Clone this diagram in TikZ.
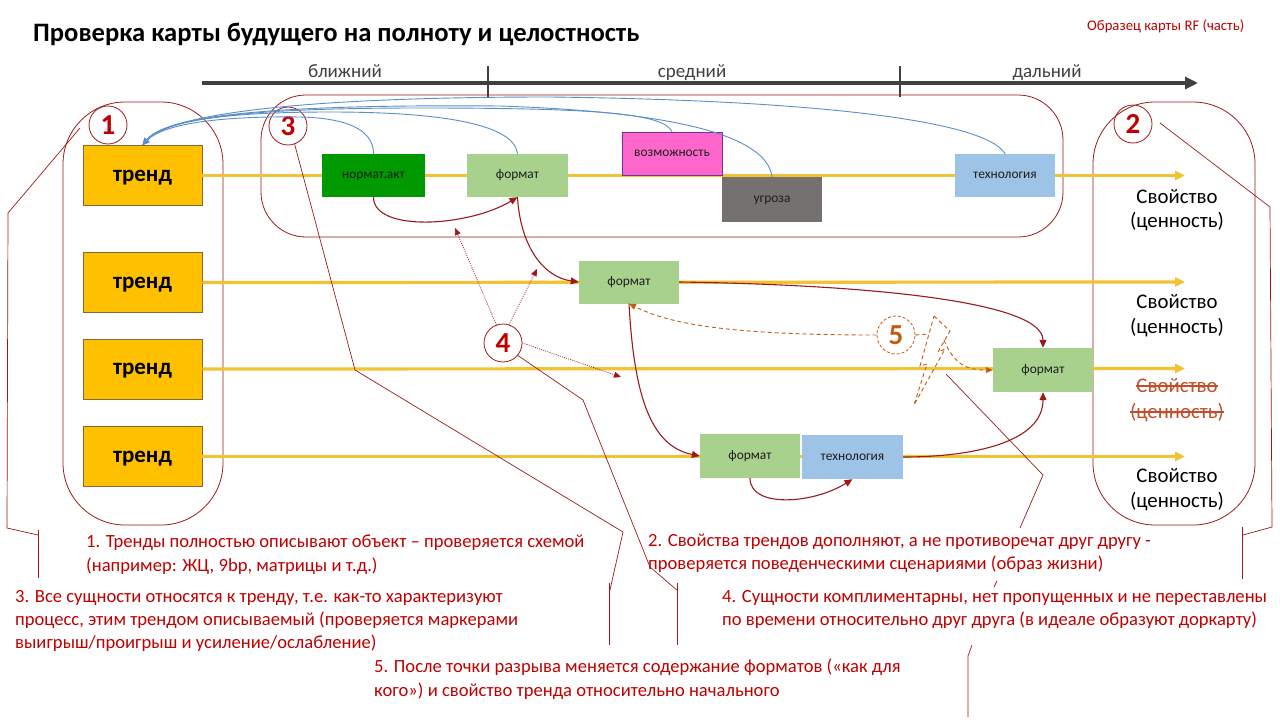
\documentclass[tikz,border=0pt]{standalone}
\usepackage{fontspec}
\setmainfont{Carlito}
\usetikzlibrary{arrows.meta}
\definecolor{dred}{HTML}{9B1B1B}
\definecolor{txtred}{HTML}{C00000}
\definecolor{ylw}{HTML}{F2C232}
\definecolor{trendfill}{HTML}{FFC000}
\definecolor{trendedge}{HTML}{7F6A3A}
\definecolor{ngreen}{HTML}{009A00}
\definecolor{lgreen}{HTML}{A9D18E}
\definecolor{pinkf}{HTML}{FF66CC}
\definecolor{purp}{HTML}{7030A0}
\definecolor{grayf}{HTML}{767171}
\definecolor{lblue}{HTML}{9DC3E6}
\definecolor{tlc}{HTML}{404040}
\definecolor{bluearc}{HTML}{5B8FC8}
\definecolor{orng}{HTML}{C55A11}
\definecolor{strk}{HTML}{C0502D}
\definecolor{boxtxt}{HTML}{1E1E1E}
\tikzset{
 yline/.style={draw=ylw, line width=3.2pt, -{Triangle[length=10pt,width=9pt]}},
 trendbox/.style={draw=trendedge, line width=0.8pt, fill=trendfill, minimum width=119pt, minimum height=60pt, inner sep=0pt, text depth=0pt, font=\bfseries\fontsize{23}{26}\selectfont},
 ebox/.style={inner sep=0pt, minimum width=100pt, minimum height=43pt, text height=0.75em, text depth=0.07em, font=\fontsize{13.4}{15}\selectfont, text=boxtxt},
 grp/.style={draw=dred, line width=0.8pt, inner sep=0pt},
 numc/.style={circle, draw=dred, line width=0.8pt, minimum size=38pt, inner sep=0pt, text=txtred, font=\bfseries\fontsize{29}{30}\selectfont},
 redarr/.style={draw=dred, line width=1.1pt, -{Triangle[length=8pt,width=7pt]}},
 dotarr/.style={draw=dred, line width=0.7pt, dash pattern=on 1pt off 1.2pt, -{Triangle[length=7pt,width=6pt]}},
 dasharr/.style={draw=orng, line width=0.9pt, dash pattern=on 4pt off 3pt},
 cline/.style={draw=dred, line width=0.7pt},
 blarc/.style={draw=bluearc, line width=0.9pt, -{Triangle[length=7pt,width=6pt]}},
 notetxt/.style={anchor=base west, inner sep=0pt, text=txtred, font=\fontsize{18.6}{21}\selectfont},
 proptxt/.style={anchor=base, inner sep=0pt, font=\fontsize{20.8}{24}\selectfont},
 tltxt/.style={anchor=base, inner sep=0pt, text=tlc, font=\fontsize{19}{22}\selectfont},
}
\begin{document}
\begin{tikzpicture}[x=1pt,y=-1pt]
\useasboundingbox (0,0) rectangle (1280,720);
\fill[white] (0,0) rectangle (1280,720);

% title
\node[anchor=base west, inner sep=0pt, font=\bfseries\fontsize{26.6}{30}\selectfont] (title) at (33,41.5) {Проверка карты будущего на полноту и целостность};
\node[anchor=base west, inner sep=0pt, text=txtred, font=\fontsize{14.7}{17}\selectfont] (sample) at (1087,30.5) {Образец карты RF (часть)};

% timeline
\coordinate (tl0) at (202,83);
\coordinate (tl1) at (1198,83);
\draw[draw=tlc, line width=3.2pt, -{Triangle[length=13pt,width=12pt]}] (tl0) -- (tl1);
\coordinate (k1a) at (488,66); \coordinate (k1b) at (488,97);
\coordinate (k2a) at (900,66); \coordinate (k2b) at (900,97);
\draw[draw=tlc, line width=2pt] (k1a) -- (k1b);
\draw[draw=tlc, line width=2pt] (k2a) -- (k2b);
\node[tltxt] (lbl1) at (345,77) {ближний};
\node[tltxt] (lbl2) at (692,77) {средний};
\node[tltxt] (lbl3) at (1047,77) {дальний};

% groups
\node[grp, minimum width=160pt, minimum height=423pt, rounded corners=62pt] (g1) at (143,313.5) {};
\node[grp, minimum width=802pt, minimum height=142pt, rounded corners=45pt] (g3) at (662,166) {};
\node[grp, minimum width=162pt, minimum height=423pt, rounded corners=62pt] (g2) at (1174,313.5) {};

% trends
\node[trendbox] (t1) at (142.5,175.5) {тренд};
\node[trendbox] (t2) at (142.5,282.5) {тренд};
\node[trendbox] (t3) at (142.5,369) {тренд};
\node[trendbox] (t4) at (142.5,456.5) {тренд};

% yellow lines
\coordinate (e1) at (1185,175.5);
\coordinate (e2) at (1185,282);
\coordinate (e3) at (1185,368.5);
\coordinate (e4) at (1185,456.5);
\draw[yline] (t1.east) -- (e1);
\draw[yline] (t2.east) -- (e2);
\draw[yline] (t3.east) -- (e3);
\draw[yline] (t4.east) -- (e4);

% entity boxes
\node[ebox, fill=ngreen, minimum width=103pt] (na) at (373.5,175.5) {нормат.акт};
\node[ebox, fill=lgreen, minimum width=101pt] (f1) at (517.5,175.5) {формат};
\node[ebox, fill=pinkf, draw=purp, line width=0.6pt] (vz) at (672,153.5) {возможность};
\node[ebox, fill=grayf, minimum height=45pt] (ug) at (772,199.5) {угроза};
\node[ebox, fill=lblue] (tc1) at (1005,175.5) {технология};
\node[ebox, fill=lgreen] (f2) at (629,282) {формат};
\node[ebox, fill=lgreen, minimum height=44pt] (f3) at (1043,370) {формат};
\node[ebox, fill=lgreen, minimum height=44pt] (f4) at (750,456) {формат};
\node[ebox, fill=lblue, minimum width=101pt, minimum height=44pt] (tc4) at (852.5,457) {технология};

% properties
\node[proptxt] (p1a) at (1177,203) {Свойство};
\node[proptxt] (p1b) at (1177,227) {(ценность)};
\node[proptxt] (p2a) at (1177,308) {Свойство};
\node[proptxt] (p2b) at (1177,333) {(ценность)};
\node[proptxt, text=strk] (p3a) at (1177,392) {Свойство};
\node[proptxt, text=strk] (p3b) at (1177,418) {(ценность)};
\draw[draw=strk, line width=1.3pt] ([yshift=6pt]p3a.base west) -- ([yshift=6pt]p3a.base east);
\draw[draw=strk, line width=1.3pt] ([yshift=6pt]p3b.base west) -- ([yshift=6pt]p3b.base east);
\node[proptxt] (p4a) at (1177,482) {Свойство};
\node[proptxt] (p4b) at (1177,507) {(ценность)};

% circles
\node[numc] (c1) at (108,125) {1};
\node[numc] (c3) at (288,126) {3};
\node[numc] (c2) at (1133,124) {2};
\node[numc] (c4) at (503,343) {4};
\node[numc, draw=orng, dash pattern=on 3pt off 2pt, text=orng] (c5) at (896,335) {5};

% blue arcs to trend 1
\draw[blarc] (na.north) .. controls +(0,-25) and (345,118) .. (300,117) .. controls (230,116) and (165,122) .. (t1.north);
\draw[blarc] (f1.north) .. controls +(-3,-30) and (440,112) .. (330,112) .. controls (230,112) and (165,120) .. (t1.north);
\draw[blarc] (vz.north) .. controls +(-8,-18) and (600,108) .. (420,108) .. controls (250,108) and (165,118) .. (t1.north);
\draw[blarc] (ug.north) .. controls +(-5,-40) and (680,112) .. (500,106) .. controls (260,104) and (165,117) .. (t1.north);
\draw[blarc] (tc1.north) .. controls +(-20,-35) and (800,100) .. (550,97) .. controls (300,97) and (170,114) .. (t1.north);

% red solid arrows
\draw[redarr] (na.south) .. controls +(0,35) and +(-50,30) .. (f1.south);
\draw[redarr] (f1.south) .. controls +(3,50) and +(-35,-5) .. (f2.west);
\draw[redarr] (f2.south) .. controls +(5,90) and +(-50,-10) .. (f4.west);
\draw[redarr] (f2.east) .. controls +(200,3) and +(0,-45) .. (f3.north);
\draw[redarr] (tc4.east) .. controls +(70,0) and +(0,50) .. (f3.south);
\draw[redarr] (f4.south) .. controls +(0,30) and +(-40,25) .. (tc4.south);

% dotted arrows from 4
\coordinate (d1) at (455,228);
\coordinate (d2) at (537,269);
\coordinate (d3) at (621,377);
\draw[dotarr] (c4.110) -- (d1);
\draw[dotarr] (c4.72) -- (d2);
\draw[dotarr] (c4.east) -- (d3);

% break point (5)
\coordinate (lz1) at (934,316);
\coordinate (lz2) at (950,331);
\coordinate (lz3) at (938,352);
\coordinate (lz4) at (945,349);
\coordinate (lz5) at (914,405);
\coordinate (lz6) at (927,364);
\coordinate (lz7) at (920,366);
\draw[dasharr] (lz1) -- (lz2) -- (lz3) -- (lz4) -- (lz5) -- (lz6) -- (lz7) -- cycle;
\coordinate (lzl) at (929,334);
\coordinate (lzr) at (944,340);
\draw[dasharr, -{Triangle[length=7pt,width=6pt]}] (c5.west) .. controls +(-150,0) and +(40,20) .. (f2.south);
\draw[dasharr] (c5.east) -- (lzl);
\draw[dasharr, -{Triangle[length=7pt,width=6pt]}] (lzr) .. controls +(10,25) and +(-25,0) .. (f3.west);

% callout lines
\coordinate (q1s) at (80,128);
\coordinate (q1a) at (8,213); \coordinate (q1b) at (7,528); \coordinate (q1c) at (38,535);
\coordinate (q1d) at (38,530); \coordinate (q1e) at (38,578);
\draw[cline] (q1s) -- (q1a) -- (q1b) -- (q1c);
\draw[cline] (q1d) -- (q1e);

\coordinate (q3a) at (355,370); \coordinate (q3b) at (623,532); \coordinate (q3c) at (610,590);
\coordinate (q3d) at (609,583); \coordinate (q3e) at (609,645);
\draw[cline] (c3.290) -- (q3a) -- (q3b) -- (q3c);
\draw[cline] (q3d) -- (q3e);

\coordinate (q4a) at (583,400); \coordinate (q4b) at (650,567); \coordinate (q4c) at (678,591);
\coordinate (q4d) at (677,583); \coordinate (q4e) at (677,645);
\draw[cline] (c4.320) -- (q4a) -- (q4b) -- (q4c);
\draw[cline] (q4d) -- (q4e);

\coordinate (q2s) at (1160,123);
\coordinate (q2a) at (1270,207); \coordinate (q2b) at (1272,527); \coordinate (q2c) at (1243,535);
\coordinate (q2d) at (1242,527); \coordinate (q2e) at (1242,579);
\draw[cline] (q2s) -- (q2a) -- (q2b) -- (q2c);
\draw[cline] (q2d) -- (q2e);

\coordinate (q5s) at (946,374); \coordinate (q5a) at (1043,475); \coordinate (q5b) at (1020,528);
\coordinate (q5c) at (997,581); \coordinate (q5d) at (994,587);
\coordinate (q5e) at (972,645); \coordinate (q5f) at (968,656); \coordinate (q5g) at (968,717);
\draw[cline] (q5s) -- (q5a) -- (q5b);
\draw[cline] (q5c) -- (q5d);
\draw[cline] (q5e) -- (q5f) -- (q5g);

% notes
\node[notetxt] (n1a) at (86,547) {1. Тренды полностью описывают объект – проверяется схемой};
\node[notetxt] (n1b) at (86,571) {(например: ЖЦ, 9bp, матрицы и т.д.)};
\node[notetxt] (n2a) at (648,546.5) {2. Свойства трендов дополняют, а не противоречат друг другу -};
\node[notetxt] (n2b) at (648,569.5) {проверяется поведенческими сценариями (образ жизни)};
\node[notetxt] (n3a) at (15,602.5) {3. Все сущности относятся к тренду, т.е. как-то характеризуют};
\node[notetxt] (n3b) at (15,625.5) {процесс, этим трендом описываемый (проверяется маркерами};
\node[notetxt] (n3c) at (15,648) {выигрыш/проигрыш и усиление/ослабление)};
\node[notetxt] (n4a) at (722,602) {4. Сущности комплиментарны, нет пропущенных и не переставлены};
\node[notetxt] (n4b) at (722,625) {по времени относительно друг друга (в идеале образуют доркарту)};
\node[notetxt] (n5a) at (374,672) {5. После точки разрыва меняется содержание форматов («как для};
\node[notetxt] (n5b) at (374,696) {кого») и свойство тренда относительно начального};
\end{tikzpicture}
\end{document}
